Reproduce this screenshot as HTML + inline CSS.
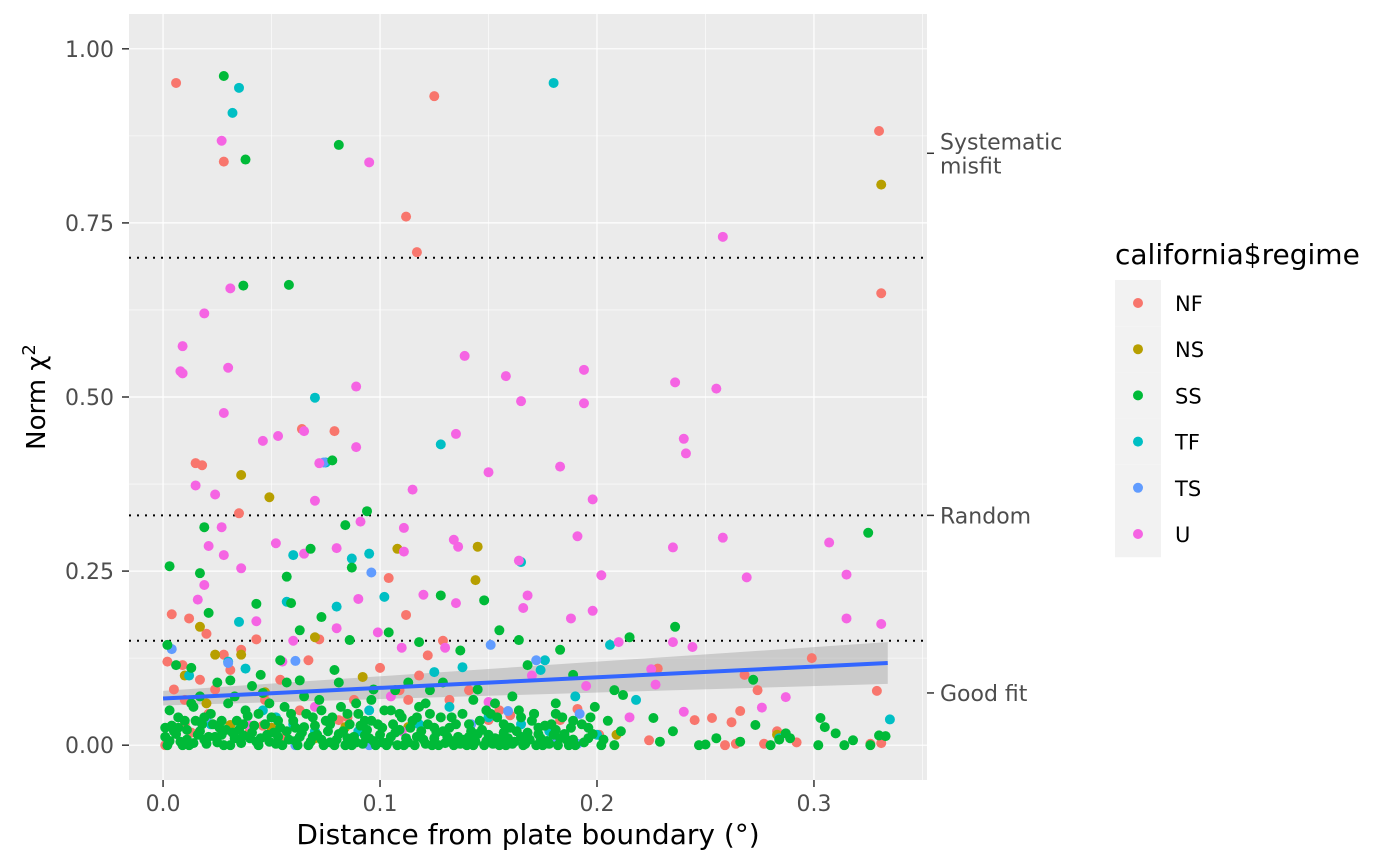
<!DOCTYPE html>
<html><head><meta charset="utf-8"><style>
body{margin:0;background:#fff;}
svg{display:block;font-family:"DejaVu Sans","Liberation Sans",sans-serif;}
</style></head><body>
<svg id="chart" width="1400" height="865" viewBox="0 0 1400 865" xmlns="http://www.w3.org/2000/svg">
<rect x="129" y="14" width="798" height="766" fill="#EBEBEB"/>
<g id="grid"></g>
<g id="ribbon"></g>
<g id="refs"></g>
<g id="points"></g>
<g id="smooth"></g>
<g id="axes"></g>
<g id="legend"></g>
</svg>
<script>
const regimes=["NF","NS","SS","TF","TS","U"];
const colors=["#F8766D","#B79F00","#00BA38","#00BFC4","#619CFF","#F564E3"];
const xTicks=[0,0.1,0.2,0.3];
const xTickLabels=["0.0","0.1","0.2","0.3"];
const yTicks=[0,0.25,0.5,0.75,1];
const yTickLabels=["0.00","0.25","0.50","0.75","1.00"];
const refLevels=[0.7,0.33,0.15];
const secLevels=[0.85,0.33,0.075];
const secLabels=[["Systematic","misfit"],["Random"],["Good fit"]];
const smoothX=[0,0.334];
const smoothY=[0.067,0.118];
const ribbonLo=[0.057,0.088];
const ribbonHi=[0.078,0.148];
const nfPts=[[0.006,0.951],[0.125,0.932],[0.330,0.882],[0.028,0.838],[0.112,0.759],[0.117,0.708],[0.331,0.649],[0.064,0.454],[0.079,0.451],[0.015,0.405],[0.018,0.402],[0.035,0.333],[0.104,0.240],[0.004,0.188],[0.012,0.182],[0.112,0.187],[0.299,0.125],[0.329,0.078],[0.268,0.101],[0.274,0.079],[0.245,0.036],[0.253,0.039],[0.262,0.033],[0.266,0.049],[0.331,0.003],[0.326,0.002],[0.259,0.0],[0.264,0.002],[0.277,0.002],[0.292,0.004],[0.001,0.0],[0.002,0.12],[0.005,0.08],[0.010,0.065],[0.017,0.094],[0.024,0.08],[0.031,0.108],[0.036,0.137],[0.043,0.152],[0.047,0.065],[0.054,0.094],[0.063,0.050],[0.067,0.122],[0.072,0.152],[0.081,0.036],[0.088,0.065],[0.100,0.111],[0.109,0.079],[0.113,0.065],[0.122,0.129],[0.132,0.065],[0.141,0.079],[0.150,0.036],[0.155,0.050],[0.183,0.036],[0.201,0.015],[0.224,0.007],[0.020,0.16],[0.028,0.13],[0.040,0.02],[0.010,0.03],[0.055,0.01],[0.085,0.04],[0.129,0.15],[0.118,0.10],[0.046,0.028],[0.021,0.045],[0.009,0.115],[0.013,0.018],[0.160,0.043],[0.191,0.052],[0.228,0.11],[0.283,0.02]];
const nsPts=[[0.331,0.805],[0.036,0.388],[0.049,0.356],[0.145,0.285],[0.144,0.237],[0.108,0.282],[0.092,0.098],[0.017,0.17],[0.024,0.13],[0.036,0.13],[0.047,0.076],[0.031,0.029],[0.084,0.026],[0.113,0.026],[0.209,0.015],[0.070,0.155],[0.010,0.10],[0.020,0.06],[0.050,0.025],[0.070,0.01],[0.150,0.01],[0.283,0.015]];
const tfPts=[[0.180,0.951],[0.035,0.944],[0.032,0.908],[0.070,0.499],[0.128,0.432],[0.075,0.406],[0.165,0.263],[0.060,0.273],[0.095,0.275],[0.087,0.268],[0.102,0.213],[0.080,0.199],[0.035,0.177],[0.057,0.206],[0.138,0.112],[0.176,0.122],[0.174,0.108],[0.206,0.144],[0.218,0.065],[0.335,0.037],[0.012,0.10],[0.030,0.12],[0.038,0.11],[0.046,0.05],[0.052,0.04],[0.060,0.03],[0.090,0.02],[0.095,0.05],[0.118,0.03],[0.132,0.055],[0.150,0.04],[0.165,0.03],[0.178,0.02],[0.190,0.07],[0.200,0.015],[0.284,0.01],[0.022,0.03],[0.070,0.02],[0.125,0.105]];
const tsPts=[[0.004,0.138],[0.061,0.121],[0.074,0.406],[0.096,0.248],[0.151,0.144],[0.172,0.122],[0.159,0.049],[0.191,0.002],[0.192,0.045],[0.061,0.0],[0.095,0.0],[0.030,0.118],[0.142,0.03],[0.020,0.04],[0.180,0.01]];
const uPts=[[0.009,0.573],[0.008,0.537],[0.009,0.534],[0.019,0.620],[0.027,0.868],[0.095,0.837],[0.258,0.730],[0.031,0.656],[0.030,0.542],[0.028,0.477],[0.139,0.559],[0.158,0.530],[0.165,0.494],[0.194,0.539],[0.194,0.491],[0.236,0.521],[0.255,0.512],[0.240,0.440],[0.241,0.419],[0.183,0.400],[0.089,0.515],[0.089,0.428],[0.046,0.437],[0.053,0.444],[0.065,0.451],[0.072,0.405],[0.070,0.351],[0.115,0.367],[0.150,0.392],[0.135,0.447],[0.198,0.353],[0.191,0.300],[0.258,0.298],[0.269,0.241],[0.307,0.291],[0.315,0.245],[0.315,0.182],[0.331,0.174],[0.015,0.373],[0.024,0.360],[0.027,0.313],[0.028,0.273],[0.036,0.254],[0.021,0.286],[0.016,0.209],[0.019,0.230],[0.052,0.290],[0.065,0.275],[0.080,0.283],[0.091,0.321],[0.111,0.312],[0.111,0.278],[0.134,0.295],[0.136,0.285],[0.164,0.265],[0.168,0.215],[0.166,0.197],[0.202,0.244],[0.198,0.193],[0.188,0.182],[0.235,0.284],[0.244,0.141],[0.235,0.148],[0.240,0.048],[0.276,0.054],[0.287,0.069],[0.099,0.162],[0.120,0.216],[0.135,0.204],[0.150,0.062],[0.210,0.148],[0.225,0.109],[0.227,0.087],[0.080,0.168],[0.043,0.178],[0.060,0.15],[0.110,0.14],[0.130,0.14],[0.090,0.21],[0.055,0.12],[0.105,0.07],[0.170,0.10],[0.195,0.085],[0.215,0.04],[0.040,0.028],[0.110,0.02],[0.070,0.055]];
const ssPts=[[0.028,0.961],[0.081,0.862],[0.038,0.841],[0.037,0.660],[0.058,0.661],[0.078,0.409],[0.019,0.313],[0.084,0.316],[0.094,0.336],[0.325,0.305],[0.003,0.257],[0.017,0.247],[0.068,0.282],[0.057,0.242],[0.087,0.255],[0.128,0.215],[0.148,0.208],[0.236,0.170],[0.215,0.155],[0.021,0.190],[0.043,0.203],[0.059,0.204],[0.073,0.184],[0.063,0.165],[0.086,0.151],[0.104,0.162],[0.118,0.148],[0.137,0.136],[0.155,0.165],[0.164,0.151],[0.183,0.137],[0.002,0.144],[0.006,0.115],[0.013,0.111],[0.031,0.093],[0.045,0.101],[0.054,0.122],[0.063,0.093],[0.079,0.108],[0.096,0.065],[0.107,0.079],[0.123,0.079],[0.143,0.065],[0.168,0.115],[0.189,0.101],[0.208,0.079],[0.212,0.072],[0.226,0.039],[0.247,0.0],[0.250,0.001],[0.272,0.094],[0.273,0.029],[0.280,0.0],[0.287,0.017],[0.289,0.010],[0.302,0.0],[0.303,0.039],[0.305,0.026],[0.310,0.017],[0.318,0.007],[0.314,0.0],[0.326,0.0],[0.330,0.014],[0.333,0.013],[0.003,0.05],[0.005,0.02],[0.008,0.005],[0.010,0.035],[0.012,0.0],[0.014,0.055],[0.016,0.015],[0.018,0.03],[0.020,0.002],[0.022,0.045],[0.024,0.012],[0.026,0.025],[0.028,0.0],[0.030,0.06],[0.032,0.018],[0.034,0.035],[0.036,0.003],[0.038,0.05],[0.040,0.01],[0.042,0.028],[0.044,0.0],[0.046,0.075],[0.048,0.015],[0.050,0.04],[0.052,0.002],[0.054,0.025],[0.056,0.055],[0.058,0.008],[0.060,0.035],[0.062,0.0],[0.064,0.018],[0.066,0.045],[0.068,0.005],[0.070,0.028],[0.072,0.065],[0.074,0.0],[0.076,0.02],[0.078,0.04],[0.080,0.008],[0.082,0.055],[0.084,0.0],[0.086,0.03],[0.088,0.012],[0.090,0.045],[0.092,0.002],[0.094,0.022],[0.096,0.035],[0.098,0.0],[0.100,0.015],[0.102,0.05],[0.104,0.005],[0.106,0.03],[0.108,0.0],[0.110,0.04],[0.112,0.01],[0.114,0.025],[0.116,0.0],[0.118,0.055],[0.120,0.008],[0.122,0.03],[0.124,0.0],[0.126,0.018],[0.128,0.04],[0.130,0.003],[0.132,0.025],[0.134,0.0],[0.136,0.012],[0.138,0.045],[0.140,0.0],[0.142,0.02],[0.144,0.005],[0.146,0.035],[0.148,0.0],[0.150,0.015],[0.152,0.002],[0.154,0.04],[0.156,0.01],[0.158,0.0],[0.160,0.025],[0.162,0.005],[0.164,0.05],[0.166,0.0],[0.168,0.018],[0.170,0.035],[0.172,0.0],[0.174,0.01],[0.176,0.028],[0.178,0.002],[0.180,0.015],[0.182,0.0],[0.184,0.04],[0.186,0.008],[0.188,0.025],[0.190,0.0],[0.193,0.03],[0.196,0.01],[0.199,0.055],[0.202,0.0],[0.205,0.035],[0.208,0.0],[0.211,0.02],[0.001,0.012],[0.004,0.028],[0.007,0.04],[0.009,0.0],[0.011,0.022],[0.015,0.035],[0.019,0.008],[0.023,0.03],[0.027,0.015],[0.031,0.0],[0.035,0.022],[0.039,0.042],[0.043,0.005],[0.047,0.03],[0.051,0.018],[0.055,0.0],[0.059,0.045],[0.063,0.012],[0.067,0.0],[0.071,0.015],[0.075,0.035],[0.079,0.0],[0.083,0.02],[0.087,0.0],[0.091,0.028],[0.095,0.01],[0.099,0.03],[0.103,0.0],[0.107,0.018],[0.111,0.0],[0.115,0.035],[0.119,0.02],[0.123,0.045],[0.127,0.0],[0.131,0.012],[0.135,0.03],[0.139,0.008],[0.143,0.0],[0.147,0.022],[0.151,0.045],[0.155,0.0],[0.159,0.01],[0.163,0.02],[0.167,0.002],[0.171,0.045],[0.175,0.0],[0.179,0.03],[0.183,0.01],[0.187,0.0],[0.001,0.025],[0.002,0.0],[0.013,0.06],[0.017,0.07],[0.025,0.09],[0.033,0.07],[0.041,0.085],[0.049,0.06],[0.057,0.09],[0.065,0.07],[0.073,0.05],[0.081,0.09],[0.089,0.06],[0.097,0.08],[0.105,0.05],[0.113,0.09],[0.121,0.06],[0.129,0.09],[0.145,0.08],[0.153,0.06],[0.161,0.07],[0.171,0.045],[0.181,0.06],[0.197,0.04],[0.229,0.005],[0.235,0.02],[0.255,0.01],[0.266,0.005],[0.284,0.008],
[0.003,0.006],[0.006,0.016],[0.011,0.008],[0.014,0.003],[0.017,0.02],[0.021,0.012],[0.025,0.004],[0.029,0.022],[0.033,0.01],[0.037,0.014],[0.041,0.018],[0.045,0.01],[0.049,0.005],[0.053,0.012],[0.057,0.02],[0.061,0.006],[0.065,0.026],[0.069,0.012],[0.073,0.008],[0.077,0.004],[0.081,0.016],[0.085,0.01],[0.089,0.004],[0.093,0.014],[0.097,0.006],[0.101,0.004],[0.105,0.012],[0.109,0.022],[0.113,0.004],[0.117,0.012],[0.121,0.002],[0.125,0.01],[0.129,0.02],[0.133,0.006],[0.137,0.002],[0.141,0.012],[0.145,0.016],[0.149,0.006],[0.153,0.01],[0.157,0.018],[0.161,0.002],[0.165,0.012],[0.169,0.008],[0.173,0.016],[0.177,0.006],[0.181,0.022],[0.185,0.016],[0.189,0.008],[0.194,0.004],[0.198,0.016],[0.203,0.008],[0.007,0.025],[0.019,0.04],[0.027,0.035],[0.037,0.03],[0.044,0.045],[0.053,0.035],[0.061,0.025],[0.069,0.04],[0.077,0.03],[0.085,0.045],[0.093,0.035],[0.101,0.025],[0.109,0.045],[0.117,0.04],[0.125,0.025],[0.133,0.04],[0.141,0.03],[0.149,0.05],[0.157,0.03],[0.165,0.04],[0.173,0.025],[0.181,0.045],[0.189,0.035],[0.196,0.025]];
const groups=[nfPts,nsPts,tfPts,tsPts,uPts,ssPts];
const groupIdx=[0,1,3,4,5,2];

const NS="http://www.w3.org/2000/svg";
const x0=129,x1=927,y0=14,y1=780,xmin=-0.0157,xmax=0.3521,ymin=-0.05,ymax=1.05;
function sx(v){return x0+(v-xmin)/(xmax-xmin)*(x1-x0);}
function sy(v){return y1-(v-ymin)/(ymax-ymin)*(y1-y0);}
function mk(tag,attrs,parent){const e=document.createElementNS(NS,tag);for(const k in attrs)e.setAttribute(k,attrs[k]);parent.appendChild(e);return e;}
const G=id=>document.getElementById(id);

[0.05,0.15,0.25,0.35].forEach(v=>{const l=mk('line',{x1:sx(v),x2:sx(v),y1:y0,y2:y1,stroke:'#fff','stroke-width':0.6},G('grid'));

});
[0.125,0.375,0.625,0.875].forEach(v=>{const l=mk('line',{x1:x0,x2:x1,y1:sy(v),y2:sy(v),stroke:'#fff','stroke-width':0.6},G('grid'));

});
xTicks.forEach(v=>{const l=mk('line',{x1:sx(v),x2:sx(v),y1:y0,y2:y1,stroke:'#fff','stroke-width':1.2},G('grid'));

});
yTicks.forEach(v=>{const l=mk('line',{x1:x0,x2:x1,y1:sy(v),y2:sy(v),stroke:'#fff','stroke-width':1.2},G('grid'));

});

const rp=`M${sx(smoothX[0])},${sy(ribbonHi[0])} L${sx(smoothX[1])},${sy(ribbonHi[1])} L${sx(smoothX[1])},${sy(ribbonLo[1])} L${sx(smoothX[0])},${sy(ribbonLo[0])}Z`;
const rib=mk('path',{d:rp,fill:'#999',opacity:0.4},G('ribbon'));



refLevels.forEach(v=>{const l=mk('line',{x1:x0,x2:x1,y1:sy(v),y2:sy(v),stroke:'#000','stroke-width':2,'stroke-dasharray':'2,6'},G('refs'));

});

groupIdx.forEach((ci,gi)=>{groups[gi].forEach(p=>{const c=mk('circle',{cx:sx(p[0]),cy:sy(p[1]),r:5,fill:colors[ci]},G('points'));

});});

const sl=mk('line',{x1:sx(smoothX[0]),y1:sy(smoothY[0]),x2:sx(smoothX[1]),y2:sy(smoothY[1]),stroke:'#3366FF','stroke-width':4},G('smooth'));



const ax=G('axes');
xTicks.forEach((v,i)=>{const t=mk('line',{x1:sx(v),x2:sx(v),y1:y1,y2:y1+7,stroke:'#333','stroke-width':1.5},ax);


const tx=mk('text',{x:sx(v),y:811,'text-anchor':'middle','font-size':22,fill:'#4D4D4D'},ax);tx.textContent=xTickLabels[i];

});
yTicks.forEach((v,i)=>{const t=mk('line',{x1:x0-7,x2:x0,y1:sy(v),y2:sy(v),stroke:'#333','stroke-width':1.5},ax);


const tx=mk('text',{x:114,y:sy(v)+8,'text-anchor':'end','font-size':22,fill:'#4D4D4D'},ax);tx.textContent=yTickLabels[i];

});
secLevels.forEach((v,i)=>{const t=mk('line',{x1:x1,x2:x1+7,y1:sy(v),y2:sy(v),stroke:'#333','stroke-width':1.5},ax);


const lines=secLabels[i];const start=sy(v)+8-(lines.length-1)*12;
lines.forEach((s,j)=>{const tx=mk('text',{x:x1+13,y:start+j*24,'font-size':22,fill:'#4D4D4D'},ax);tx.textContent=s;

});});
const xt=mk('text',{x:528,y:844,'text-anchor':'middle','font-size':28,fill:'#000'},ax);xt.textContent='Distance from plate boundary (°)';


const yt=mk('text',{x:0,y:0,'text-anchor':'middle','font-size':26,fill:'#000',transform:`translate(45,${(y0+y1)/2}) rotate(-90)`},ax);
yt.innerHTML='Norm χ<tspan dy="-10" font-size="18">2</tspan>';



const lg=G('legend');
const lt=mk('text',{x:1115,y:264,'font-size':28,fill:'#000'},lg);lt.textContent='california$regime';


regimes.forEach((r,i)=>{const cy=303+i*46.2;
const bg=mk('rect',{x:1115,y:cy-23,width:46,height:46.2,fill:'#F2F2F2'},lg);


const c=mk('circle',{cx:1138,cy:cy,r:5,fill:colors[i]},lg);


const t=mk('text',{x:1175,y:cy+8,'font-size':21,fill:'#000'},lg);t.textContent=r;

});
</script>
</body></html>
